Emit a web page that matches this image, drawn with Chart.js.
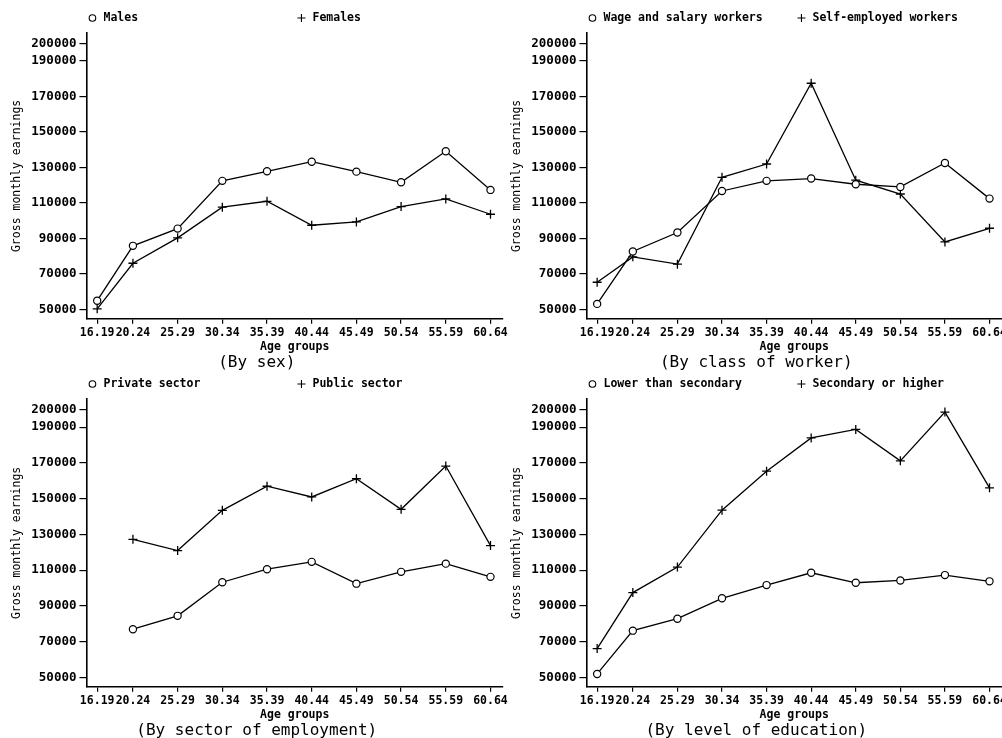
<!DOCTYPE html>
<html>
<head>
<meta charset="utf-8">
<script src="https://cdn.jsdelivr.net/npm/chart.js@4.4.1/dist/chart.umd.min.js"></script>
<style>
  body { margin: 0; background: #fff; overflow: hidden; width: 1002px; height: 738px; position: relative; }
  canvas { position: absolute; }
</style>
</head>
<body>
<canvas id="cvsSexo" width="512" height="372" style="left:0;top:0"></canvas>
<canvas id="cvsClasse" width="515" height="372" style="left:500px;top:0"></canvas>
<canvas id="cvsSetor" width="512" height="374" style="left:0;top:366px"></canvas>
<canvas id="cvsEducacao" width="515" height="374" style="left:500px;top:366px"></canvas>
<script>
//faixas etarias (rotulos e idade usada no eixo x)
const faixas = ["16.19", "20.24", "25.29", "30.34", "35.39", "40.44", "45.49", "50.54", "55.59", "60.64"];
const idades = [18, 22, 27, 32, 37, 42, 47, 52, 57, 62];
const ticksY = [50000, 70000, 90000, 110000, 130000, 150000, 170000, 190000, 200000];

//by sex
const homens = [55000, 85900, 95600, 122500, 127900, 133300, 127700, 121700, 139200, 117400];
const mulheres = [50400, 76100, 90400, 107700, 111000, 97500, 99400, 108000, 112300, 103700];

//by class of worker
const assalariados = [53200, 82700, 93400, 116800, 122500, 123800, 120600, 119100, 132600, 112500];
const autonomos = [65400, 79700, 75600, 124500, 132000, 177500, 122900, 115100, 88100, 95800];

//by sector of employment
const privado = [null, 77000, 84500, 103300, 110600, 114700, 102500, 109100, 113700, 106300];
const publico = [null, 127300, 121000, 143500, 157000, 151000, 161200, 144100, 168300, 123800];

//by level of education
const menosSecundario = [52000, 76200, 82900, 94300, 101700, 108600, 103000, 104300, 107300, 103800];
const secundarioMais = [66200, 97500, 111800, 143600, 165400, 184000, 188800, 171200, 198500, 156100];

const fonte = '"DejaVu Sans Mono", monospace';

//legenda desenhada no topo de cada painel
const legendaFixa = {
  id: 'legendaFixa',
  afterDraw(chart) {
    const ctx = chart.ctx;
    const x0 = chart.chartArea.left;
    const y = 18;
    ctx.save();
    ctx.strokeStyle = '#000';
    ctx.fillStyle = '#000';
    ctx.lineWidth = 1.1;
    ctx.font = 'bold 11.5px ' + fonte;
    ctx.textBaseline = 'middle';
    ctx.beginPath();
    ctx.arc(x0 + 6, y, 3.3, 0, Math.PI * 2);
    ctx.stroke();
    ctx.fillText(chart.data.datasets[0].label, x0 + 17, y);
    ctx.beginPath();
    ctx.moveTo(x0 + 211, y); ctx.lineTo(x0 + 219, y);
    ctx.moveTo(x0 + 215, y - 4); ctx.lineTo(x0 + 215, y + 4);
    ctx.stroke();
    ctx.fillText(chart.data.datasets[1].label, x0 + 226, y);
    ctx.restore();
  }
};

function pontos(serie) {
  return idades.map((x, i) => ({ x: x, y: serie[i] }));
}

function criaGrafico(id, titulo, nome1, serie1, nome2, serie2, padDir) {
  new Chart(document.getElementById(id), {
    type: 'line',
    data: {
      datasets: [
        {
          label: nome1,
          data: pontos(serie1),
          borderColor: '#000',
          borderWidth: 1.3,
          pointStyle: 'circle',
          pointRadius: 3.6,
          pointBorderWidth: 1.2,
          pointBackgroundColor: '#fff',
          pointBorderColor: '#000'
        },
        {
          label: nome2,
          data: pontos(serie2),
          borderColor: '#000',
          borderWidth: 1.3,
          pointStyle: 'cross',
          pointRadius: 4.5,
          pointBorderWidth: 1.3,
          pointBorderColor: '#000'
        }
      ]
    },
    options: {
      responsive: false,
      animation: false,
      layout: { padding: { top: 33, left: 10.5, right: padDir, bottom: 0 } },
      plugins: {
        legend: { display: false },
        tooltip: { enabled: false },
        title: {
          display: true,
          text: titulo,
          position: 'bottom',
          color: '#000',
          font: { family: fonte, size: 16, weight: 'normal', lineHeight: 1.1 },
          padding: { top: 0, bottom: 0 }
        }
      },
      scales: {
        x: {
          type: 'linear',
          min: 16.8,
          max: 63.4,
          afterBuildTicks: (eixo) => { eixo.ticks = idades.map(v => ({ value: v })); },
          ticks: {
            autoSkip: false,
            maxRotation: 0,
            padding: 2,
            color: '#000',
            font: { family: fonte, size: 11.5, weight: 'bold' },
            callback: (v) => faixas[idades.indexOf(v)]
          },
          grid: { drawOnChartArea: false, tickLength: 5, color: '#000', lineWidth: 1.2 },
          border: { color: '#000', width: 1.6 },
          title: {
            display: true,
            text: 'Age groups',
            color: '#000',
            font: { family: fonte, size: 11.5, weight: 'bold' },
            padding: { top: -1, bottom: 0 }
          }
        },
        y: {
          min: 44800,
          max: 205800,
          afterBuildTicks: (eixo) => { eixo.ticks = ticksY.map(v => ({ value: v })); },
          ticks: {
            padding: 3,
            color: '#000',
            font: { family: fonte, size: 12.5, weight: 'bold' },
            callback: (v) => String(v)
          },
          grid: { drawOnChartArea: false, tickLength: 7, color: '#000', lineWidth: 1.2 },
          border: { color: '#000', width: 1.6 },
          title: {
            display: true,
            text: 'Gross monthly earnings',
            color: '#000',
            font: { family: fonte, size: 11.5, weight: 'normal' },
            padding: { top: 0, bottom: 4 }
          }
        }
      }
    },
    plugins: [legendaFixa]
  });
}

criaGrafico('cvsSexo', '(By sex)', 'Males', homens, 'Females', mulheres, 9);
criaGrafico('cvsClasse', '(By class of worker)', 'Wage and salary workers', assalariados, 'Self-employed workers', autonomos, 13);
criaGrafico('cvsSetor', '(By sector of employment)', 'Private sector', privado, 'Public sector', publico, 9);
criaGrafico('cvsEducacao', '(By level of education)', 'Lower than secondary', menosSecundario, 'Secondary or higher', secundarioMais, 13);
</script>
</body>
</html>
